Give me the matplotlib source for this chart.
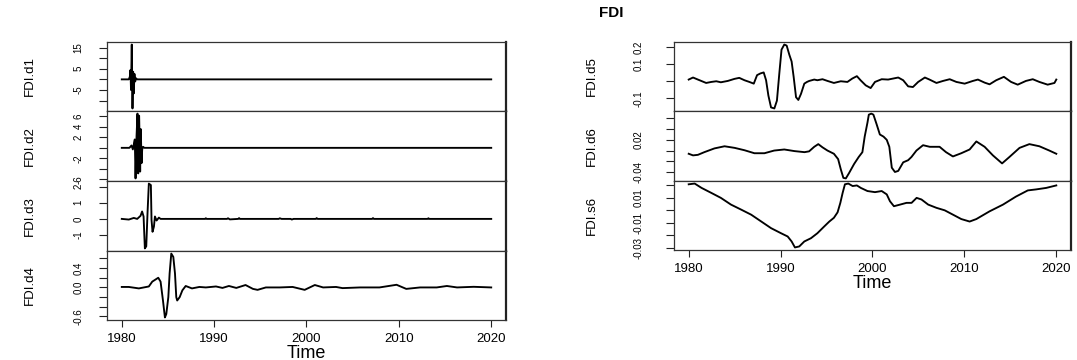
import matplotlib
matplotlib.use("Agg")
import matplotlib.pyplot as plt

plt.rcParams['font.family'] = ['Liberation Sans', 'DejaVu Sans']

# ---- data (year, value) ----
d1_t = [1980.0, 1980.76, 1980.87, 1980.94, 1981.0, 1981.08, 1981.16, 1981.23, 1981.3,
        1981.37, 1981.45, 1981.55, 1981.66, 2020.0]
d1_v = [0.0, 0.0, 1.2, 4.4, -5.0, 16.4, -13.7, 3.6, -6.6, 2.6, -1.0, 0.5, 0.0, 0.0]

d2_t = [1980.0, 1980.83, 1981.05, 1981.2, 1981.34, 1981.41, 1981.49, 1981.6, 1981.7,
        1981.78, 1981.88, 1981.99, 1982.06, 1982.14, 1982.21, 1982.3, 1982.45, 2020.0]
d2_v = [0.0, 0.0, 0.45, -0.3, 1.0, 1.6, -5.8, 2.25, 6.5, -4.85, 6.1, -4.5, 3.55,
        -2.9, -0.3, 0.2, 0.0, 0.0]

d3_t = [1980.0, 1980.76, 1981.3, 1981.67, 1982.03, 1982.2, 1982.36, 1982.5, 1982.65,
        1982.79, 1982.93, 1983.15, 1983.22, 1983.33, 1983.48, 1983.59, 1983.77, 1984.02,
        1984.2, 1989.0, 1989.1, 1989.2, 1991.4, 1991.5, 1991.7, 1992.6, 1992.7, 1992.8,
        1997.0, 1997.1, 1997.3, 1998.3, 1998.4, 1998.6, 2001.0, 2001.1, 2001.2, 2007.1,
        2007.2, 2007.3, 2013.1, 2013.2, 2013.3, 2020.0]
d3_v = [0.0, -0.04, 0.06, 0.0, 0.19, 0.46, 0.15, -1.83, -1.7, 0.4, 2.19, 2.1, -0.06,
        -0.8, -0.48, 0.15, -0.1, 0.08, 0.0, 0.0, 0.04, 0.0, 0.0, 0.04, -0.03, 0.0, 0.05,
        0.0, 0.0, 0.04, 0.0, 0.0, -0.04, 0.0, 0.0, 0.05, 0.0, 0.0, 0.05, 0.0, 0.0, 0.04,
        0.0, 0.0]

d4_t = [1980.0, 1980.76, 1981.85, 1982.93, 1983.3, 1983.95, 1984.2, 1984.46, 1984.67,
        1984.82, 1985.04, 1985.18, 1985.36, 1985.58, 1985.76, 1985.9, 1986.0, 1986.27,
        1986.56, 1986.92, 1987.6, 1988.4, 1989.1, 1990.2, 1990.9, 1991.6, 1992.4, 1993.4,
        1994.2, 1994.7, 1995.6, 1997.1, 1998.5, 1999.8, 2000.9, 2001.8, 2003.2, 2003.9,
        2005.8, 2007.9, 2009.75, 2010.8, 2012.3, 2014.1, 2015.2, 2016.3, 2018.1, 2020.0]
d4_v = [0.01, 0.01, -0.02, 0.02, 0.12, 0.2, 0.12, -0.27, -0.62, -0.55, -0.2, 0.29,
        0.70, 0.63, 0.29, -0.2, -0.27, -0.2, -0.06, 0.03, -0.02, 0.01, 0.0, 0.02, -0.01,
        0.03, -0.01, 0.05, -0.03, -0.05, 0.0, 0.0, 0.01, -0.05, 0.05, 0.0, 0.01, -0.014,
        0.0, 0.0, 0.055, -0.03, 0.0, 0.0, 0.03, 0.0, 0.013, 0.0]

d5_t = [1980.0, 1980.47, 1981.0, 1981.9, 1982.46, 1983.0, 1983.5, 1984.26, 1984.98,
        1985.5, 1986.07, 1986.6, 1987.08, 1987.44, 1987.8, 1988.16, 1988.42, 1988.67,
        1988.96, 1989.32, 1989.6, 1989.86, 1990.1, 1990.4, 1990.66, 1990.95, 1991.2,
        1991.42, 1991.68, 1991.93, 1992.22, 1992.58, 1992.87, 1993.12, 1993.66, 1994.0,
        1994.56, 1995.1, 1995.8, 1996.55, 1997.27, 1997.8, 1998.3, 1998.7, 1999.26,
        1999.8, 2000.27, 2001.0, 2001.7, 2002.8, 2003.34, 2003.88, 2004.4, 2004.97,
        2005.7, 2006.2, 2006.96, 2007.68, 2008.4, 2009.13, 2010.03, 2010.93, 2011.47,
        2012.2, 2012.74, 2013.46, 2014.3, 2015.08, 2015.8, 2016.7, 2017.44, 2018.16,
        2019.06, 2019.8, 2020.0]
d5_v = [0.010, 0.022, 0.010, -0.010, -0.004, 0.0, -0.006, 0.002, 0.014, 0.020, 0.006,
        -0.004, -0.014, 0.036, 0.046, 0.052, 0.006, -0.084, -0.154, -0.160, -0.114,
        0.046, 0.186, 0.216, 0.210, 0.156, 0.116, 0.026, -0.094, -0.110, -0.074, -0.014,
        -0.004, 0.002, 0.010, 0.006, 0.012, 0.002, -0.010, 0.0, -0.004, 0.016, 0.030,
        0.006, -0.024, -0.040, -0.004, 0.012, 0.010, 0.022, 0.006, -0.030, -0.034,
        -0.004, 0.022, 0.010, -0.010, 0.002, 0.012, -0.004, -0.014, 0.002, 0.010, -0.008,
        -0.018, 0.006, 0.026, -0.004, -0.020, 0.002, 0.012, -0.004, -0.020, -0.010, 0.010]

d6_t = [1980.0, 1980.47, 1981.0, 1981.7, 1982.8, 1983.9, 1985.0, 1986.07, 1987.15,
        1988.24, 1989.3, 1990.4, 1991.5, 1992.6, 1993.1, 1993.66, 1994.1, 1994.56,
        1995.1, 1995.8, 1996.26, 1996.55, 1996.83, 1997.1, 1997.45, 1998.0, 1998.5,
        1998.9, 1999.15, 1999.45, 1999.6, 1999.87, 2000.1, 2000.45, 2000.8, 2001.2,
        2001.55, 2001.83, 2002.1, 2002.44, 2002.8, 2003.34, 2003.88, 2004.24, 2004.78,
        2005.5, 2006.23, 2007.3, 2008.0, 2008.75, 2009.66, 2010.57, 2011.3, 2012.2,
        2013.1, 2014.1, 2014.9, 2016.0, 2017.07, 2018.16, 2019.24, 2020.0]
d6_v = [-0.006, -0.009, -0.008, -0.003, 0.004, 0.008, 0.005, 0.0006, -0.005, -0.005,
        0.0, 0.002, -0.001, -0.003, -0.0015, 0.007, 0.012, 0.006, 0.0, -0.006, -0.016,
        -0.035, -0.051, -0.052, -0.042, -0.025, -0.012, -0.003, 0.026, 0.052, 0.067,
        0.069, 0.067, 0.049, 0.030, 0.026, 0.020, 0.007, -0.032, -0.040, -0.038, -0.022,
        -0.018, -0.012, 0.0, 0.010, 0.007, 0.007, -0.003, -0.011, -0.005, 0.002, 0.017,
        0.007, -0.009, -0.024, -0.012, 0.005, 0.012, 0.008, 0.0, -0.006]

s6_t = [1980.0, 1980.65, 1981.4, 1982.46, 1983.5, 1984.6, 1985.7, 1986.8, 1987.9,
        1988.96, 1990.05, 1990.77, 1991.2, 1991.56, 1992.03, 1992.58, 1993.3, 1994.0,
        1994.74, 1995.3, 1995.8, 1996.2, 1996.5, 1996.75, 1997.0, 1997.37, 1997.84,
        1998.3, 1998.73, 1999.45, 2000.27, 2001.0, 2001.55, 2001.9, 2002.33, 2003.0,
        2003.7, 2004.25, 2004.8, 2005.33, 2006.06, 2006.96, 2007.86, 2008.76, 2009.66,
        2010.57, 2011.3, 2012.74, 2014.2, 2015.6, 2016.9, 2017.8, 2018.9, 2020.0]
s6_v = [0.0209, 0.0215, 0.018, 0.014, 0.010, 0.0046, 0.0006, -0.0035, -0.009, -0.0143,
        -0.0184, -0.021, -0.025, -0.0298, -0.029, -0.025, -0.0224, -0.0184, -0.013,
        -0.009, -0.006, -0.0016, 0.006, 0.014, 0.0209, 0.0215, 0.0195, 0.020, 0.018,
        0.0155, 0.0146, 0.0155, 0.0128, 0.0073, 0.0033, 0.0046, 0.006, 0.006, 0.010,
        0.0087, 0.0046, 0.002, 0.0, -0.0035, -0.007, -0.009, -0.007, -0.0008, 0.0046,
        0.011, 0.016, 0.0168, 0.018, 0.020]

left_names = ['FDI.d1', 'FDI.d2', 'FDI.d3', 'FDI.d4']
right_names = ['FDI.d5', 'FDI.d6', 'FDI.s6']

# y ticks and the labels R kept (others drawn without text)
d1_ticks = [-10, -5, 0, 5, 10, 15]
d1_labels = ['', '-5', '', '5', '', '15']
d2_ticks = [-6, -4, -2, 0, 2, 4, 6]
d2_labels = ['-6', '', '-2', '', '2', '4', '6']
d3_ticks = [-1, 0, 1, 2]
d3_labels = ['-1', '0', '1', '2']
d4_ticks = [-0.6, -0.4, -0.2, 0.0, 0.2, 0.4, 0.6]
d4_labels = ['-0.6', '', '', '0.0', '', '0.4', '']
d5_ticks = [-0.1, 0.0, 0.1, 0.2]
d5_labels = ['-0.1', '', '0.1', '0.2']
d6_ticks = [-0.04, -0.02, 0.0, 0.02, 0.04, 0.06]
d6_labels = ['-0.04', '', '', '0.02', '', '']
s6_ticks = [-0.03, -0.02, -0.01, 0.0, 0.01, 0.02]
s6_labels = ['-0.03', '', '-0.01', '', '0.01', '']

year_ticks = [1980, 1990, 2000, 2010, 2020]

left_series = [(d1_t, d1_v, d1_ticks, d1_labels), (d2_t, d2_v, d2_ticks, d2_labels),
               (d3_t, d3_v, d3_ticks, d3_labels), (d4_t, d4_v, d4_ticks, d4_labels)]
right_series = [(d5_t, d5_v, d5_ticks, d5_labels), (d6_t, d6_v, d6_ticks, d6_labels),
                (s6_t, s6_v, s6_ticks, s6_labels)]

W, H = 1077, 360
fig = plt.figure(figsize=(W / 100, H / 100), dpi=100)


def px_axes(x0, x1, y0, y1):
    # pixel box -> figure axes
    return fig.add_axes([x0 / W, 1 - y1 / H, (x1 - x0) / W, (y1 - y0) / H])


def draw_column(series, names, x0, x1, edges, label_x, tick_pad):
    n = len(series)
    for i, (t, v, ticks, labels) in enumerate(series):
        ax = px_axes(x0, x1, edges[i], edges[i + 1])
        ax.plot(t, v, color='black', lw=1.35)
        ax.set_xlim(1980 - 0.04 * 40, 2020 + 0.04 * 40)
        ax.margins(y=0.04)
        ax.set_yticks(ticks)
        ax.set_yticklabels(labels, rotation=90, va='center', fontsize=7)
        ax.tick_params(axis='y', length=6, width=0.8, pad=tick_pad, color='#222222')
        for side in ['left', 'bottom', 'top']:
            ax.spines[side].set_color('#333333')
            ax.spines[side].set_linewidth(0.9)
        ax.spines['right'].set_color('#222222')
        ax.spines['right'].set_linewidth(1.6)
        ax.text(label_x, 0.5, names[i], transform=ax.transAxes, rotation=90,
                ha='center', va='center', fontsize=9.5)
        if i < n - 1:
            ax.set_xticks([])
        else:
            ax.set_xticks(year_ticks)
            ax.set_xticklabels([str(y) for y in year_ticks], fontsize=9.5)
            ax.tick_params(axis='x', length=5, width=0.8, pad=4, color='#222222')
            ax.set_xlabel('Time', fontsize=13, labelpad=0)


draw_column(left_series, left_names, 107, 506, [42, 111, 181, 251, 320],
            (30 - 107) / 399, 11)
draw_column(right_series, right_names, 674, 1071, [42, 111, 181, 250],
            (592 - 674) / 397, 16)

fig.text(611 / W, 1 - 13 / H, 'FDI', ha='center', va='center',
         fontsize=11, fontweight='bold')

fig.savefig('out.png', dpi=100)
